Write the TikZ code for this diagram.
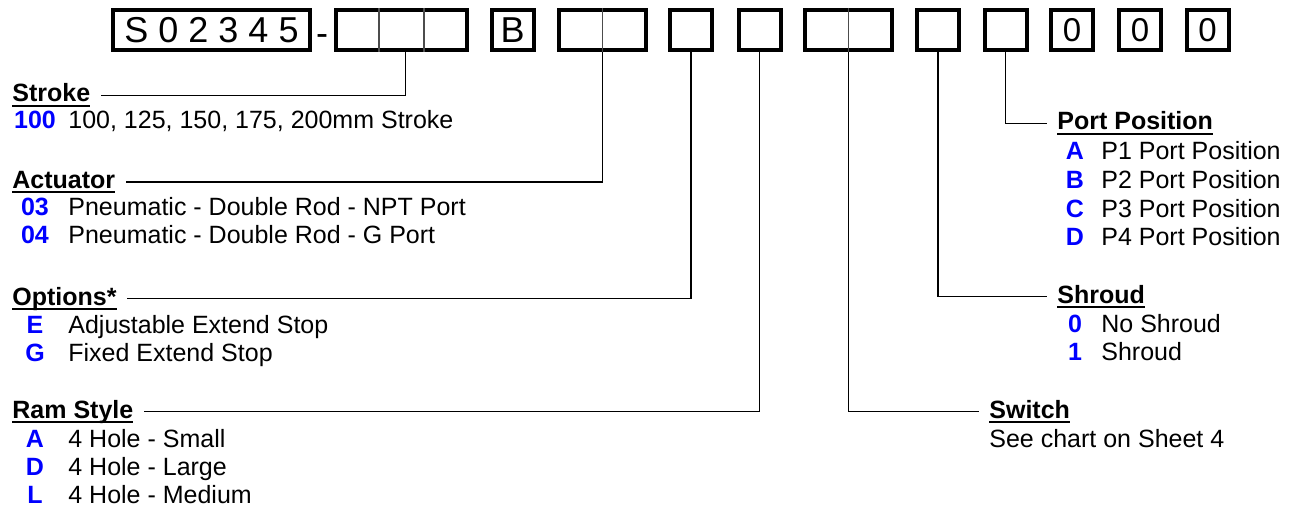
\documentclass[tikz,border=0pt]{standalone}
\usepackage{fontspec}
\setmainfont{Liberation Sans}
\usepackage{tikz}
\usetikzlibrary{positioning, calc}
\definecolor{codeblue}{HTML}{0000FF}
\newcommand{\hdline}[1]{\setbox0\hbox{\bfseries #1}\rlap{\rule[-2.6pt]{\wd0}{1pt}}\box0}

\begin{document}
\begin{tikzpicture}[x=0.5pt, y=-0.5pt,
  part/.style={draw, line width=2pt, minimum height=20pt, minimum width=21pt, inner sep=0pt,
               font=\fontsize{18}{22}\selectfont},
  double/.style={part, minimum width=43.5pt},
  fixed/.style={part, font=\fontsize{16.5}{20}\selectfont},
  divider/.style={draw=black!70, line width=0.8pt},
  hdr/.style={inner xsep=5pt, inner ysep=0pt, anchor=base west, font=\fontsize{12.5}{15}\selectfont},
  code/.style={inner sep=0pt, anchor=base, text=codeblue, font=\fontsize{12.5}{15}\selectfont\bfseries},
  desc/.style={inner sep=0pt, anchor=base west, font=\fontsize{12.5}{15}\selectfont},
  lead/.style={line width=0.65pt},
]
\useasboundingbox (0,0) rectangle (1295,508);
% part number boxes
\node[part, minimum width=98.5pt] (base) at (211.5,30) {S 0 2 3 4 5};
\node[inner sep=0pt, anchor=base, font=\fontsize{18}{22}\selectfont] (dash) at (322,46) {-};
\node[part, minimum width=65.5pt] (stroke) at (401.5,30) {};
\draw[divider] ($(stroke.north west)!1/3!(stroke.north east)$) -- ($(stroke.south west)!1/3!(stroke.south east)$);
\draw[divider] ($(stroke.north west)!2/3!(stroke.north east)$) -- ($(stroke.south west)!2/3!(stroke.south east)$);
\node[part] (series) at (512.5,30) {B};
\node[double] (act) at (602.5,30) {};
\draw[divider] (act.north) -- (act.south);
\node[part] (opt) at (691,30) {};
\node[part] (ram) at (759.5,30) {};
\node[double] (sw) at (848.5,30) {};
\draw[divider] (sw.north) -- (sw.south);
\node[part] (shroud) at (938,30) {};
\node[part] (port) at (1005.5,30) {};
\foreach \x/\n in {1072/a, 1140/b, 1207.5/c}
  \node[fixed] (zero\n) at (\x,30) {0};

% left column
\node[hdr] (strokehd) at (2,102) {\hdline{Stroke}};
\node[code] (strokec) at (35,128) {100};
\node[desc] (stroked) at (68,128) {100, 125, 150, 175, 200mm Stroke};

\node[hdr] (acthd) at (2,188) {\hdline{Actuator}};
\foreach \c/\t/\y [count=\i] in {03/Pneumatic - Double Rod - NPT Port/215, 04/Pneumatic - Double Rod - G Port/243.5} {
  \node[code] (actc\i) at (35,\y) {\c};
  \node[desc] (actd\i) at (68,\y) {\t};
}

\node[hdr] (opthd) at (2,305) {\hdline{Options*}};
\foreach \c/\t/\y [count=\i] in {E/Adjustable Extend Stop/333, G/Fixed Extend Stop/361} {
  \node[code] (optc\i) at (35,\y) {\c};
  \node[desc] (optd\i) at (68,\y) {\t};
}

\node[hdr] (ramhd) at (2,418) {\hdline{Ram Style}};
\foreach \c/\t/\y [count=\i] in {A/4 Hole - Small/447, D/4 Hole - Large/475, L/4 Hole - Medium/503} {
  \node[code] (ramc\i) at (35,\y) {\c};
  \node[desc] (ramd\i) at (68,\y) {\t};
}

% right column
\node[hdr] (porthd) at (1047,130) {\hdline{Port Position}};
\foreach \c/\y [count=\i] in {A/160, B/188, C/217, D/245} {
  \node[code] (portc\i) at (1075,\y) {\c};
  \node[desc] (portd\i) at (1101,\y) {P\i\ Port Position};
}

\node[hdr] (shroudhd) at (1047,303) {\hdline{Shroud}};
\foreach \c/\t/\y [count=\i] in {0/No Shroud/332, 1/Shroud/360} {
  \node[code] (shroudc\i) at (1075,\y) {\c};
  \node[desc] (shroudd\i) at (1101,\y) {\t};
}

\node[hdr] (swhd) at (979,418) {\hdline{Switch}};
\node[desc] (swd) at (989,447) {See chart on Sheet 4};

% leaders
\draw[lead] ([xshift=2pt]stroke.south) |- (strokehd.east);
\draw[lead] (act.south) |- (acthd.east);
\draw[lead] (opt.south) |- (opthd.east);
\draw[lead] (ram.south) |- (ramhd.east);
\draw[lead] (sw.south) |- (swhd.west);
\draw[lead] (shroud.south) |- (shroudhd.west);
\draw[lead] (port.south) |- (porthd.west);
\end{tikzpicture}
\end{document}
